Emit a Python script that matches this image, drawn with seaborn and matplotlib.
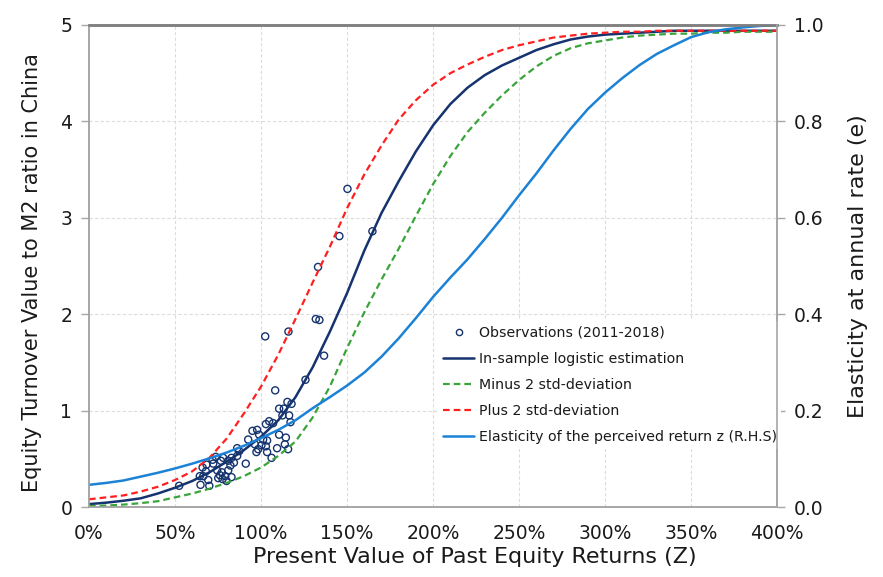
import seaborn as sns
import matplotlib.pyplot as plt
from matplotlib.lines import Line2D

# present value of past returns (Z), in %
z = list(range(0, 401, 10))

logistic = [0.03, 0.045, 0.065, 0.09, 0.14, 0.20, 0.27, 0.36, 0.47, 0.59,
            0.73, 0.90, 1.14, 1.45, 1.82, 2.22, 2.66, 3.05, 3.38, 3.69,
            3.96, 4.18, 4.35, 4.48, 4.58, 4.66, 4.74, 4.80, 4.85, 4.88,
            4.90, 4.91, 4.92, 4.93, 4.94, 4.94, 4.94, 4.94, 4.94, 4.94, 4.94]

plus2 = [0.08, 0.10, 0.12, 0.16, 0.21, 0.28, 0.37, 0.51, 0.71, 0.97,
         1.25, 1.58, 1.95, 2.33, 2.70, 3.10, 3.45, 3.75, 4.02, 4.22,
         4.38, 4.50, 4.59, 4.67, 4.74, 4.79, 4.83, 4.87, 4.89, 4.91,
         4.92, 4.93, 4.93, 4.94, 4.94, 4.94, 4.94, 4.94, 4.94, 4.94, 4.94]

minus2 = [0.01, 0.015, 0.025, 0.04, 0.06, 0.10, 0.14, 0.19, 0.25, 0.32,
          0.41, 0.53, 0.68, 0.93, 1.25, 1.65, 2.02, 2.36, 2.68, 3.02,
          3.35, 3.64, 3.89, 4.09, 4.27, 4.43, 4.57, 4.68, 4.76, 4.81,
          4.84, 4.87, 4.89, 4.90, 4.91, 4.91, 4.92, 4.92, 4.93, 4.93, 4.93]

elasticity = [0.046, 0.050, 0.055, 0.063, 0.071, 0.080, 0.090, 0.101, 0.113, 0.127,
              0.143, 0.160, 0.180, 0.205, 0.228, 0.252, 0.279, 0.312, 0.350, 0.392,
              0.436, 0.476, 0.514, 0.556, 0.600, 0.647, 0.692, 0.740, 0.785, 0.826,
              0.860, 0.890, 0.917, 0.940, 0.958, 0.975, 0.985, 0.991, 0.995, 0.998, 1.000]

# observations 2011-2018
obs_z = [52.4, 64.4, 66.4, 64.8, 69.3, 69.9, 66.0, 67.9, 72.2, 73.7,
         71.8, 76.6, 78.0, 74.5, 76.1, 77.6, 77.2, 79.2, 80.9, 82.2,
         80.9, 82.8, 84.2, 86.1, 86.1, 87.3, 91.1, 92.5, 95.0, 97.7,
         98.9, 96.4, 98.3, 97.3, 100.2, 101.2, 102.8, 104.7, 103.5, 102.8,
         103.5, 106.1, 107.0, 108.2, 110.5, 113.2, 115.3, 117.7, 116.3, 112.4,
         110.5, 109.3, 114.4, 113.8, 115.7, 117.1, 79.9, 82.8, 75.1, 68.3,
         150.2, 145.5, 164.7, 133.1, 131.8, 133.9, 102.4, 115.9, 136.6, 125.8]
obs_v = [0.22, 0.32, 0.32, 0.23, 0.28, 0.22, 0.41, 0.37, 0.45, 0.52,
         0.49, 0.48, 0.51, 0.38, 0.33, 0.29, 0.36, 0.32, 0.38, 0.43,
         0.48, 0.51, 0.46, 0.61, 0.53, 0.58, 0.45, 0.70, 0.79, 0.80,
         0.75, 0.65, 0.60, 0.57, 0.64, 0.70, 0.86, 0.89, 0.69, 0.63,
         0.57, 0.51, 0.87, 1.21, 1.02, 1.02, 1.09, 1.07, 0.95, 0.95,
         0.75, 0.61, 0.72, 0.65, 0.60, 0.88, 0.27, 0.31, 0.30, 0.44,
         3.30, 2.81, 2.86, 2.49, 1.95, 1.94, 1.77, 1.82, 1.57, 1.32]

navy = "#15336e"
green = "#3aa33a"
red = "#ff1f1f"
blue = "#1c82d6"
ink = "#1a1a1a"

sns.set_theme(style="white")
plt.rcParams['font.family'] = ['DejaVu Sans']

fig = plt.figure(figsize=(8.83, 5.77), dpi=100)
ax = fig.add_axes([0.1008, 0.1213, 0.7795, 0.8354])
ax2 = ax.twinx()

sns.scatterplot(x=obs_z, y=obs_v, ax=ax, s=26, facecolor="none",
                edgecolor=navy, linewidth=1.0, zorder=3)
sns.lineplot(x=z, y=logistic, ax=ax, color=navy, linewidth=1.8, zorder=4)
sns.lineplot(x=z, y=minus2, ax=ax, color=green, linewidth=1.6,
             linestyle=(0, (3, 1.8)), zorder=4)
sns.lineplot(x=z, y=plus2, ax=ax, color=red, linewidth=1.6,
             linestyle=(0, (3, 1.8)), zorder=4)
sns.lineplot(x=z, y=elasticity, ax=ax2, color=blue, linewidth=1.8)

ax.set_xlim(0, 400)
ax.set_ylim(0, 5)
ax2.set_ylim(0, 1.0)
ax.set_xticks(range(0, 401, 50))
ax.set_xticklabels([f"{t}%" for t in range(0, 401, 50)])
ax.set_yticks(range(0, 6))
ax2.set_yticks([0, 0.2, 0.4, 0.6, 0.8, 1.0])
ax2.set_yticklabels(["0.0", "0.2", "0.4", "0.6", "0.8", "1.0"])

ax.grid(True, color="#dcdcdc", linestyle=(0, (3, 2)), linewidth=0.8)
ax.set_axisbelow(True)

for a in (ax, ax2):
    for side in ("left", "right", "bottom"):
        a.spines[side].set_color("#a6a6a6")
        a.spines[side].set_linewidth(1.2)
    a.spines["top"].set_color("#7f7f7f")
    a.spines["top"].set_linewidth(1.8)
    a.tick_params(length=6, width=1, color="#a6a6a6", labelsize=13.5,
                  labelcolor=ink, pad=6)
ax2.spines["right"].set_zorder(6)

ax.set_xlabel("Present Value of Past Equity Returns (Z)", fontsize=16, color=ink)
ax.xaxis.set_label_coords(0.56, -0.082)
ax.set_ylabel("Equity Turnover Value to M2 ratio in China", fontsize=15, color=ink)
ax.yaxis.set_label_coords(-0.068, 0.487)
ax2.set_ylabel("Elasticity at annual rate (e)", fontsize=16, color=ink)
ax2.yaxis.set_label_coords(1.102, 0.5)

handles = [
    Line2D([], [], linestyle="none", marker="o", markersize=4.5, markerfacecolor="none",
           markeredgecolor=navy, markeredgewidth=1.0),
    Line2D([], [], color=navy, linewidth=1.8),
    Line2D([], [], color=green, linewidth=1.6, linestyle=(0, (3, 1.8))),
    Line2D([], [], color=red, linewidth=1.6, linestyle=(0, (3, 1.8))),
    Line2D([], [], color=blue, linewidth=1.8),
]
labels = ["Observations (2011-2018)", "In-sample logistic estimation",
          "Minus 2 std-deviation", "Plus 2 std-deviation",
          "Elasticity of the perceived return z (R.H.S)"]
leg = ax2.legend(handles, labels, loc="upper left", bbox_to_anchor=(0.5075, 0.385),
                 frameon=True, facecolor="white", edgecolor="none", framealpha=1,
                 fontsize=10.2, handlelength=2.25, handletextpad=0.3,
                 labelspacing=0.86, borderpad=0.3, borderaxespad=0)
for t in leg.get_texts():
    t.set_color(ink)

fig.savefig("out.png", dpi=100)
